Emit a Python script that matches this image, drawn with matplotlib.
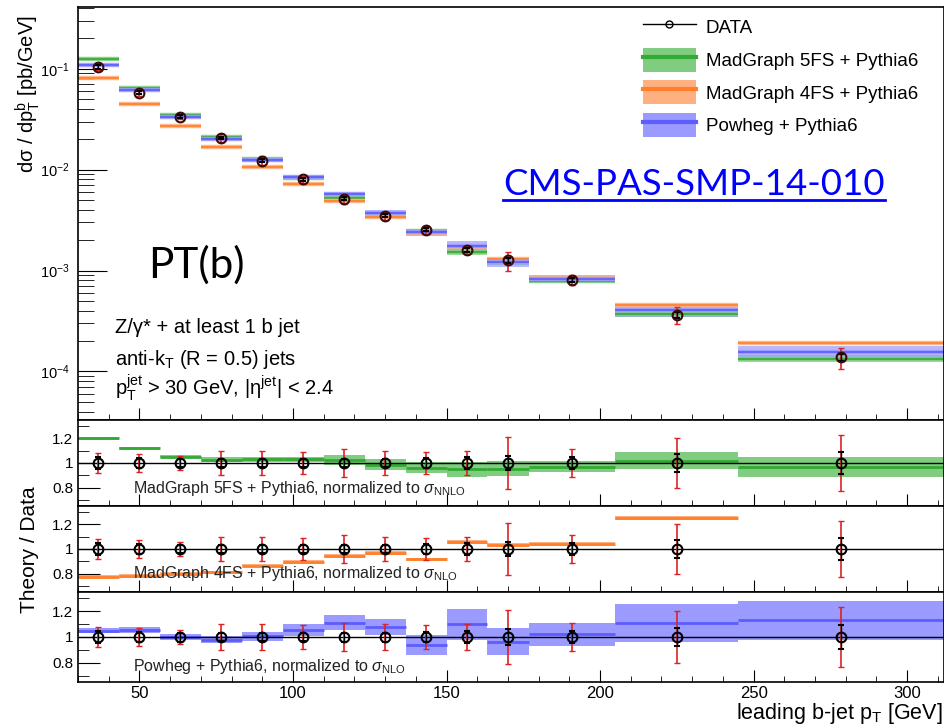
import matplotlib
matplotlib.use('Agg')
import matplotlib.pyplot as plt
import numpy as np
from matplotlib.patches import Patch
from matplotlib.lines import Line2D
from matplotlib.ticker import MultipleLocator, NullFormatter, FixedLocator

plt.rcParams['font.family'] = ['Liberation Sans', 'DejaVu Sans']
plt.rcParams['mathtext.fontset'] = 'custom'
plt.rcParams['mathtext.rm'] = 'Liberation Sans'
plt.rcParams['mathtext.it'] = 'Liberation Sans:italic'
plt.rcParams['mathtext.bf'] = 'Liberation Sans:bold'

# bins of leading b-jet pT [GeV]
edges = [30, 43.3, 56.7, 70, 83.3, 96.7, 110, 123.3, 136.7, 150, 163.3, 176.7, 205, 245, 312]
# measured cross section [pb/GeV]
data = [0.105, 0.058, 0.0335, 0.0207, 0.0123, 0.0080, 0.00516, 0.0035, 0.00255,
        0.00161, 0.00126, 0.00081, 0.000366, 0.000138]
# relative errors of data (stat, total)
stat_err = [0.05, 0.04, 0.035, 0.03, 0.03, 0.03, 0.035, 0.035, 0.04, 0.045, 0.06, 0.05, 0.07, 0.09]
tot_err = [0.08, 0.07, 0.055, 0.10, 0.10, 0.09, 0.11, 0.10, 0.09, 0.10, 0.21, 0.11, 0.20, 0.23]
# theory / data ratios and band half widths
mg5 = [1.20, 1.12, 1.05, 1.025, 1.03, 1.03, 1.025, 0.985, 0.96, 0.95, 0.955, 0.97, 1.02, 0.97]
mg5_err = [0.012, 0.012, 0.012, 0.02, 0.02, 0.02, 0.04, 0.045, 0.045, 0.06, 0.06, 0.045, 0.07, 0.08]
mg4 = [0.775, 0.78, 0.80, 0.81, 0.865, 0.895, 0.945, 0.97, 0.915, 1.055, 1.03, 1.04, 1.25, 1.38]
mg4_err = [0.015] * 14
pow_ = [1.05, 1.055, 1.0, 0.98, 1.005, 1.055, 1.11, 1.075, 0.935, 1.10, 0.965, 1.02, 1.11, 1.13]
pow_err = [0.017, 0.02, 0.02, 0.027, 0.035, 0.046, 0.058, 0.063, 0.078, 0.12, 0.105, 0.09, 0.15, 0.15]

labels = ['MadGraph 5FS + Pythia6', 'MadGraph 4FS + Pythia6', 'Powheg + Pythia6']
ratio_texts = ['MadGraph 5FS + Pythia6, normalized to $\\sigma_{\\mathrm{NNLO}}$',
               'MadGraph 4FS + Pythia6, normalized to $\\sigma_{\\mathrm{NLO}}$',
               'Powheg + Pythia6, normalized to $\\sigma_{\\mathrm{NLO}}$']
text_y = [0.151, 0.163, 0.122]
fills = ['#80cc80', '#ffb080', '#9a9aff']
lines = ['#33aa33', '#ff7f2a', '#5c5cff']

edges = np.array(edges)
lo, hi = edges[:-1], edges[1:]
ctr = (lo + hi) / 2
wid = hi - lo
data = np.array(data)
stat_err = np.array(stat_err)
tot_err = np.array(tot_err)
models = [(np.array(mg5), np.array(mg5_err)), (np.array(mg4), np.array(mg4_err)),
          (np.array(pow_), np.array(pow_err))]
red = '#dd2222'

fig = plt.figure(figsize=(9.45, 7.26), dpi=100)
def fy(px):
    return 1 - px / 726
L, W = 78 / 945, 866 / 945
ax0 = fig.add_axes([L, fy(420), W, 413 / 726])
ax1 = fig.add_axes([L, fy(506), W, 86 / 726])
ax2 = fig.add_axes([L, fy(592), W, 86 / 726])
ax3 = fig.add_axes([L, fy(682), W, 90 / 726])

# main panel
for (r, e), fc, lc in zip(models, fills, lines):
    pred = data * r
    ax0.bar(ctr, pred * 2 * e, bottom=pred * (1 - e), width=wid, color=fc, alpha=0.7, lw=0)
    ax0.hlines(pred, lo, hi, color=fc, lw=3.2, alpha=0.9)
    ax0.hlines(pred, lo, hi, color=lc, lw=1.2)
ax0.errorbar(ctr, data, yerr=data * tot_err, fmt='none', ecolor=red, capsize=2.5, elinewidth=1.2)
ax0.errorbar(ctr, data, yerr=data * stat_err, fmt='o', mfc='none', mec='#3a0a0a', ms=7, mew=1.5,
             ecolor='black', capsize=2.5, elinewidth=1.0)
ax0.set_yscale('log')
ax0.set_ylim(3.3e-5, 0.41)
ax0.yaxis.set_minor_formatter(NullFormatter())

# ratio panels
for ax, (r, e), fc, lc, txt, ty in zip([ax1, ax2, ax3], models, fills, lines, ratio_texts, text_y):
    ax.bar(ctr, 2 * e, bottom=r - e, width=wid, color=fc, lw=0)
    ax.hlines(r, lo, hi, color=lc, lw=2.0)
    ax.axhline(1, color='black', lw=1.0)
    ones = np.ones_like(ctr)
    ax.errorbar(ctr, ones, yerr=tot_err, fmt='none', ecolor=red, capsize=2.5, elinewidth=1.2)
    ax.errorbar(ctr, ones, yerr=stat_err, fmt='o', mfc='none', mec='black', ms=7, mew=1.5,
                ecolor='black', capsize=2.5, elinewidth=1.0)
    ax.set_ylim(0.65, 1.35)
    ax.yaxis.set_major_locator(FixedLocator([0.8, 1.0, 1.2]))
    ax.yaxis.set_minor_locator(FixedLocator([0.7, 0.9, 1.1, 1.3]))
    ax.set_yticklabels(['0.8', '1', '1.2'])
    ax.tick_params(axis='y', which='major', length=16)
    ax.tick_params(axis='y', which='minor', length=8)
    ax.tick_params(axis='y', labelsize=11)
    ax.text(0.0635, ty, txt, transform=ax.transAxes, fontsize=11.5,
            va='baseline', ha='left', color='#222222')

for ax in [ax0, ax1, ax2, ax3]:
    ax.set_xlim(30, 312)
    ax.xaxis.set_major_locator(MultipleLocator(50))
    ax.xaxis.set_minor_locator(MultipleLocator(10))
    ax.tick_params(which='both', direction='in', top=False, right=False, colors='black')
    ax.tick_params(axis='x', which='major', length=8.5)
    ax.tick_params(axis='x', which='minor', length=4.5)
    for s in ax.spines.values():
        s.set_linewidth(1.2)
    if ax is not ax3:
        ax.tick_params(labelbottom=False)
ax0.tick_params(axis='y', which='major', length=21, labelsize=10.5, pad=6)
ax0.tick_params(axis='y', which='minor', length=11.5)
ax3.tick_params(axis='x', labelsize=12, pad=3)

# legend
handles = [Line2D([], [], color='black', marker='o', mfc='none', ms=5, lw=1)]
for fc, lc in zip(fills, lines):
    handles.append((Patch(facecolor=fc, edgecolor='none'), Line2D([], [], color=lc, lw=3)))
ax0.legend(handles, ['DATA'] + labels, loc='upper left', bbox_to_anchor=((643 - 78) / 866, 0.98),
           frameon=False, fontsize=13.5, borderpad=0, borderaxespad=0, handlelength=2.8,
           handletextpad=0.55, handleheight=1.6, labelspacing=0.45)

# texts
ax0.text(0.0427, 0.2107, 'Z/\u03b3* + at least 1 b jet', transform=ax0.transAxes, fontsize=14.5,
         va='baseline')
ax0.text(0.0427, 0.1332, 'anti-k$_{\\mathrm{T}}$ (R = 0.5) jets', transform=ax0.transAxes,
         fontsize=14.5, va='baseline')
ax0.text(0.0427, 0.0605, 'p$_{\\mathrm{T}}^{\\mathrm{jet}}$ > 30 GeV, |\u03b7$^{\\mathrm{jet}}$| < 2.4',
         transform=ax0.transAxes, fontsize=14.5, va='baseline')
ax0.text(0.0808, 0.3438, 'PT(b)', transform=ax0.transAxes, fontsize=30.5, va='baseline',
         family=['Lato', 'DejaVu Sans'])
cms = ax0.text(0.4908, 0.5448, 'CMS-PAS-SMP-14-010', transform=ax0.transAxes, fontsize=26.4,
               va='baseline', color='#0000ff', family=['Lato', 'DejaVu Sans'])

fig.text(28 / 945, fy(15), 'd\u03c3 / dp$_{\\mathrm{T}}^{\\mathrm{b}}$ [pb/GeV]', rotation=90,
         ha='center', va='top', fontsize=14.5)
fig.text(30 / 945, fy(550), 'Theory / Data', rotation=90, ha='center', va='center', fontsize=15)
fig.text(943 / 945, fy(713), 'leading b-jet p$_{\\mathrm{T}}$ [GeV]', ha='right', va='center',
         fontsize=15.5)

# underline the reference link
fig.canvas.draw()
bb = cms.get_window_extent().transformed(fig.transFigure.inverted())
fig.add_artist(Line2D([bb.x0, bb.x1], [fy(200), fy(200)], color='#0000ff', lw=2,
                      transform=fig.transFigure))

fig.savefig('out.png', dpi=100)
